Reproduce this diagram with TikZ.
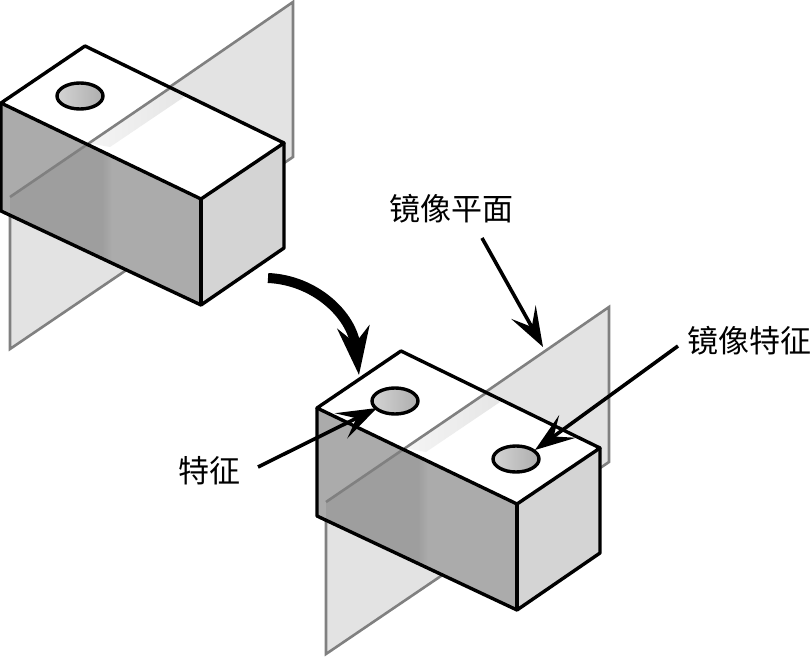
\documentclass[tikz,border=0pt]{standalone}
\usepackage{fontspec}
\newfontfamily\cjk{Noto Sans CJK SC}
\usetikzlibrary{arrows.meta}
\definecolor{planefill}{gray}{0.89}
\definecolor{planeedge}{gray}{0.50}
\definecolor{sidefill}{gray}{0.83}
\definecolor{frontfill}{gray}{0.67}
\definecolor{frontdark}{gray}{0.62}
\tikzset{
  edge/.style={line width=3.4pt,line join=round,black},
  planeline/.style={line width=2.6pt,planeedge},
  lbl/.style={font=\cjk\fontsize{31}{34}\selectfont,inner sep=0pt},
  pointer/.style={line width=3.6pt,-{Stealth[length=40pt,width=28pt,inset=17pt]}},
  bigarrow/.style={line width=10pt,-{Stealth[length=48pt,width=32pt,inset=16pt]}}
}
\newcommand{\hole}[2]{\draw[line width=3.4pt,left color=black!17,right color=black!32] (#1,#2) ellipse [x radius=23,y radius=13];}
\begin{document}
\begin{tikzpicture}[x=1pt,y=-1pt]
\useasboundingbox (0,0) rectangle (811,658);

% the two blocks with their planes
\foreach \dx/\dy in {0/0,316/305}{
\begin{scope}[shift={(\dx,\dy)}]
\fill[planefill] (10,197) -- (293,2) -- (293,157) -- (10,349) --cycle;
\draw[planeline] (10,349) -- (10,197) -- (293,2) -- (293,157) -- cycle;
\fill[white] (1,103) -- (85,46) -- (284,143) -- (201,199) --cycle;
\fill[frontfill] (1,103) -- (201,199) -- (201,305) -- (1,211) --cycle;
\fill[sidefill] (201,199) -- (284,143) -- (284,248) -- (201,305) --cycle;
% plane seen through the block
\shade[left color=black!4,right color=black!10] (88,143) -- (170,88) -- (184,97) -- (110,147) --cycle;
\fill[frontdark] (10,197) -- (88,143) -- (102,150) -- (102,257) -- (10,214) --cycle;
\shade[left color=frontdark,right color=frontfill] (102,150) -- (112,155) -- (112,262) -- (102,257) --cycle;
\draw[planeline] (10,197) -- (170,88);
\draw[edge] (1,103) -- (85,46) -- (284,143) -- (201,199) --cycle;
\draw[edge] (1,103) -- (1,211) -- (201,305) -- (284,248) -- (284,143);
\draw[edge] (201,199) -- (201,305);
\end{scope}
}
\hole{80}{96}
\hole{395}{401}
\hole{516}{459}

\node[lbl] (mirrorplane) at (451,209) {镜像平面};
\node[lbl] (feature) at (209,471) {特征};
\node[lbl] (mirrorfeature) at (749,341) {镜像特征};
\coordinate (start) at (268,278);
\coordinate (stop) at (359,375);
\coordinate (planetip) at (543,347);
\coordinate (holetip) at (377,408);
\coordinate (mirrortip) at (535,450);
\coordinate (featstart) at (258,467);
\coordinate (mirrorstart) at (678,346);
\coordinate (planestart) at (482,238);

\draw[bigarrow] (start) .. controls (315,280) and (352,315) .. (stop);
\draw[pointer] (planestart) -- (planetip);
\draw[pointer] (featstart) -- (holetip);
\draw[pointer] (mirrorstart) -- (mirrortip);
\end{tikzpicture}
\end{document}
